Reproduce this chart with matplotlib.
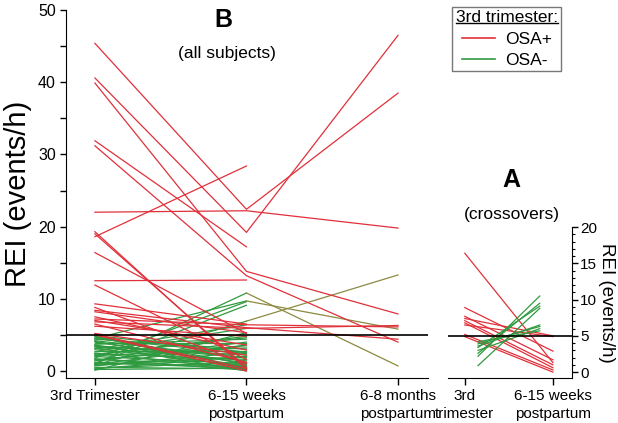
import matplotlib
matplotlib.use("Agg")
import matplotlib.pyplot as plt
import matplotlib.transforms as mtransforms
from matplotlib.lines import Line2D
from matplotlib.ticker import MultipleLocator

plt.rcParams['font.family'] = ['Liberation Sans', 'DejaVu Sans']

RED = '#e0303a'
GREEN = '#2f9a3f'
OLIVE = '#8c8a40'

# panel B (all subjects): REI at 3rd trimester, 6-15 weeks, 6-8 months
b_labels = ['3rd Trimester', '6-15 weeks\npostpartum', '6-8 months\npostpartum']

red3_t0 = [45.4, 40.6, 39.9, 31.2, 22.0, 7.2, 6.8, 8.4]
red3_t1 = [22.4, 19.2, 13.8, 13.2, 22.2, 6.4, 5.9, 6.0]
red3_t2 = [38.5, 46.5, 7.9, 4.0, 19.8, 6.1, 6.3, 4.4]

red2_t0 = [31.9, 18.6, 19.3, 19.0, 16.4, 12.5, 11.9, 9.3, 7.5, 6.5, 5.1, 5.2, 5.0, 8.2, 7.0, 6.2, 8.8]
red2_t1 = [17.2, 28.4, 0.2, 0.5, 5.2, 12.6, 1.6, 6.5, 2.9, 1.2, 0.3, 2.2, 0.0, 5.3, 3.6, 4.8, 1.0]

green3_t0 = [1.0, 4.5, 0.8]
green3_t1 = [10.8, 9.7, 6.9]
green3_t2 = [0.7, 5.8, 13.3]

green2_t0 = [0.2, 0.5, 0.8, 1.0, 1.2, 1.5, 1.8, 2.0, 2.3, 2.5, 2.8, 3.0, 3.3, 3.6,
             3.9, 4.2, 4.5, 4.8, 0.1, 0.4, 0.7, 1.1, 1.4, 1.7, 2.1, 2.4, 2.7, 3.1,
             3.4, 3.7, 4.0, 4.4, 4.7, 0.3, 0.9, 1.6, 2.2, 3.5, 4.1, 4.9]
green2_t1 = [0.4, 0.3, 2.0, 9.1, 0.6, 3.5, 9.6, 1.0, 4.6, 0.2, 2.8, 6.4, 1.4, 0.0,
             3.9, 1.8, 2.4, 0.9, 5.3, 1.2, 2.6, 0.4, 4.0, 0.1, 3.2, 1.6, 5.9, 0.7,
             2.2, 4.4, 1.1, 3.0, 0.5, 2.0, 3.6, 0.8, 4.8, 1.9, 0.3, 2.6]

# panel A (crossovers): 3rd trimester vs 6-15 weeks
a_labels = ['3rd\ntrimester', '6-15 weeks\npostpartum']
a_red_t0 = [16.4, 8.9, 7.7, 7.4, 7.1, 6.8, 6.5, 5.2, 4.9]
a_red_t1 = [1.3, 2.9, 1.7, 5.0, 1.0, 0.6, 4.9, 0.3, 0.0]
a_green_t0 = [0.9, 2.2, 2.6, 3.4, 3.6, 3.9, 4.2, 3.0]
a_green_t1 = [8.8, 10.5, 9.5, 9.1, 6.5, 6.3, 5.7, 6.0]

fig = plt.figure(figsize=(6.18, 4.23), dpi=100)
axB = fig.add_axes([0.107, 0.106, 0.586, 0.870])
axA = fig.add_axes([0.725, 0.106, 0.2006, 0.357])

lw = 0.9
for a, b in zip(green2_t0, green2_t1):
    axB.plot([0, 1], [a, b], color=GREEN, lw=lw)
for a, b, c in zip(green3_t0, green3_t1, green3_t2):
    axB.plot([0, 1], [a, b], color=GREEN, lw=lw)
    axB.plot([1, 2], [b, c], color=OLIVE, lw=lw)
for a, b in zip(red2_t0, red2_t1):
    axB.plot([0, 1], [a, b], color=RED, lw=lw)
for a, b, c in zip(red3_t0, red3_t1, red3_t2):
    axB.plot([0, 1, 2], [a, b, c], color=RED, lw=lw)
axB.axhline(5, color='black', lw=1.2)

axB.set_xlim(-0.19, 2.2)
axB.set_ylim(-1, 50)
axB.set_xticks([0, 1, 2])
axB.set_xticklabels(b_labels, fontsize=11, linespacing=1.35)
axB.yaxis.set_major_locator(MultipleLocator(10))
axB.yaxis.set_minor_locator(MultipleLocator(5))
axB.tick_params(axis='y', labelsize=11.5, length=4, width=1, direction='out')
axB.tick_params(axis='y', which='minor', length=4, width=1)
axB.tick_params(axis='x', length=5, width=1, pad=3)
axB.spines['top'].set_visible(False)
axB.spines['right'].set_visible(False)
axB.set_ylabel('REI (events/h)', fontsize=21, labelpad=4)
axB.text(0.85, 48.6, 'B', fontsize=18, fontweight='bold', ha='center', va='center')
axB.text(0.87, 44.0, '(all subjects)', fontsize=12.5, ha='center', va='center')

for a, b in zip(a_red_t0, a_red_t1):
    axA.plot([0, 1], [a, b], color=RED, lw=lw)
for a, b in zip(a_green_t0, a_green_t1):
    axA.plot([0.15, 0.85], [a, b], color=GREEN, lw=lw)
axA.axhline(5, color='black', lw=1.2)
axA.set_xlim(-0.19, 1.216)
axA.set_ylim(-0.83, 20)
axA.set_xticks([0, 1])
axA.set_xticklabels(a_labels, fontsize=11, linespacing=1.35)
for lbl, dx in zip(axA.get_xticklabels(), [8, 5]):
    lbl.set_transform(lbl.get_transform() +
                      mtransforms.ScaledTranslation(dx / 100, 0, fig.dpi_scale_trans))
axA.yaxis.tick_right()
axA.yaxis.set_label_position('right')
axA.yaxis.set_major_locator(MultipleLocator(5))
axA.yaxis.set_minor_locator(MultipleLocator(1))
axA.tick_params(axis='y', labelsize=11, length=4, width=1, pad=2)
axA.tick_params(axis='y', which='minor', length=2, width=0.8)
axA.tick_params(axis='x', length=5, width=1, pad=3)
axA.spines['top'].set_visible(False)
axA.spines['left'].set_visible(False)
axA.set_ylabel('REI (events/h)', fontsize=13.5, rotation=-90, labelpad=13)
axA.text(0.53, 26.5, 'A', fontsize=18, fontweight='bold', ha='center', va='center')
axA.text(0.53, 21.8, '(crossovers)', fontsize=12.5, ha='center', va='center')

handles = [Line2D([], [], color=RED, lw=1.2), Line2D([], [], color=GREEN, lw=1.2)]
leg = fig.legend(handles, ['OSA+', 'OSA-'], title='3rd trimester:',
                 loc='upper left', bbox_to_anchor=(0.718, 1.004), fontsize=12.5,
                 title_fontsize=12.5, frameon=True, fancybox=False, edgecolor='#555555',
                 handlelength=1.9, borderpad=0.2, labelspacing=0.35, handletextpad=0.6)
leg.get_frame().set_linewidth(1)

# underline the legend title
fig.canvas.draw()
bb = leg.get_title().get_window_extent(fig.canvas.get_renderer())
W, H = fig.bbox.width, fig.bbox.height
uy = (bb.y0 + 2) / H
fig.add_artist(Line2D([bb.x0 / W, bb.x1 / W], [uy, uy], color='black', lw=1.0,
                      transform=fig.transFigure, zorder=10))

fig.savefig('out.png', dpi=100)
